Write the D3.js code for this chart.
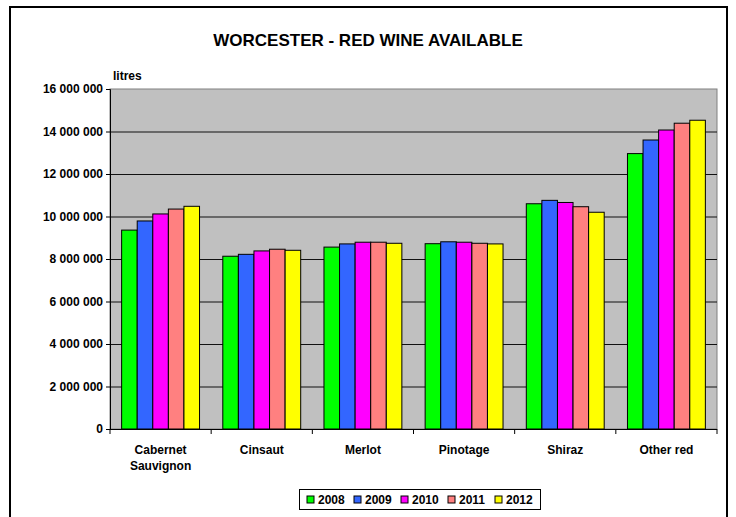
<!DOCTYPE html>
<html>
<head>
<meta charset="utf-8">
<script src="https://cdn.jsdelivr.net/npm/d3@7"></script>
<style>
  body { margin: 0; background: #fff; }
  text { font-family: "Liberation Sans", Arial, sans-serif; font-weight: bold; }
  text.small { font-family: "Liberation Sans Narrow", "Arial Narrow", "Liberation Sans", Arial, sans-serif; font-size: 12px; }
</style>
</head>
<body>
<svg id="chart"></svg>
<script>
const categories = ["Cabernet Sauvignon", "Cinsaut", "Merlot", "Pinotage", "Shiraz", "Other red"];
const years = ["2008", "2009", "2010", "2011", "2012"];
const colors = ["#00ff00", "#3366ff", "#ff00ff", "#ff8080", "#ffff00"];

// litres, one array per year, in category order
const v2008 = [9360000, 8130000, 8560000, 8720000, 10600000, 12960000];
const v2009 = [9790000, 8220000, 8710000, 8810000, 10760000, 13600000];
const v2010 = [10120000, 8380000, 8790000, 8790000, 10660000, 14070000];
const v2011 = [10350000, 8460000, 8790000, 8740000, 10460000, 14390000];
const v2012 = [10480000, 8410000, 8740000, 8710000, 10200000, 14530000];
const series = [v2008, v2009, v2010, v2011, v2012];

const yTicks = [0, 2000000, 4000000, 6000000, 8000000, 10000000, 12000000, 14000000, 16000000];

const W = 736, H = 517;
const plot = {left: 110, right: 717, top: 89, bottom: 429};

const svg = d3.select("#chart").attr("width", W).attr("height", H);

// outer frame (bottom edge runs off the picture)
svg.append("rect")
  .attr("x", 10).attr("y", 7)
  .attr("width", 717).attr("height", 530)
  .attr("fill", "#fff").attr("stroke", "#000").attr("stroke-width", 2);

svg.append("text")
  .attr("x", 368).attr("y", 46)
  .attr("text-anchor", "middle")
  .style("font-size", "17px")
  .text("WORCESTER - RED WINE AVAILABLE");

const x0 = d3.scaleBand()
  .domain(categories)
  .range([plot.left, plot.right])
  .paddingInner(0.23)
  .paddingOuter(0.115);

const x1 = d3.scaleBand()
  .domain(years)
  .range([0, x0.bandwidth()]);

const y = d3.scaleLinear()
  .domain([0, 16000000])
  .range([plot.bottom, plot.top]);

// plot background
svg.append("rect")
  .attr("x", plot.left).attr("y", plot.top)
  .attr("width", plot.right - plot.left)
  .attr("height", plot.bottom - plot.top)
  .attr("fill", "#c0c0c0")
  .attr("stroke", "#808080");

// gridlines
svg.append("g")
  .selectAll("line")
  .data(yTicks.filter(d => d > 0 && d < 16000000))
  .join("line")
  .attr("x1", plot.left).attr("x2", plot.right)
  .attr("y1", d => y(d) + 0.5).attr("y2", d => y(d) + 0.5)
  .attr("stroke", "#111");

// bars
const rows = categories.map((c, i) => ({cat: c, vals: years.map((yr, j) => ({year: yr, value: series[j][i], color: colors[j]}))}));

svg.append("g")
  .selectAll("g")
  .data(rows)
  .join("g")
  .attr("transform", d => `translate(${x0(d.cat)},0)`)
  .selectAll("rect")
  .data(d => d.vals)
  .join("rect")
  .attr("x", d => x1(d.year))
  .attr("y", d => y(d.value))
  .attr("width", x1.bandwidth())
  .attr("height", d => y(0) - y(d.value))
  .attr("fill", d => d.color)
  .attr("stroke", "#000")
  .attr("stroke-width", 1);

// y axis
const yAxis = d3.axisLeft(y)
  .tickValues(yTicks)
  .tickSize(4)
  .tickPadding(3)
  .tickFormat(d => d3.format(",")(d).replace(/,/g, " "));

const gy = svg.append("g")
  .attr("transform", `translate(${plot.left},0)`)
  .call(yAxis);
gy.select(".domain").attr("stroke", "#000");
gy.selectAll("text").attr("class", "small").style("font-size", null).attr("fill", "#000");

// x axis: ticks at category boundaries
const gx = svg.append("g");
gx.append("line")
  .attr("x1", plot.left).attr("x2", plot.right)
  .attr("y1", plot.bottom + 0.5).attr("y2", plot.bottom + 0.5)
  .attr("stroke", "#000");
const step = x0.step();
gx.selectAll("line.tick")
  .data(d3.range(categories.length + 1))
  .join("line")
  .attr("class", "tick")
  .attr("x1", i => x0(categories[0]) - x0.paddingOuter() * step + i * step)
  .attr("x2", i => x0(categories[0]) - x0.paddingOuter() * step + i * step)
  .attr("y1", plot.bottom).attr("y2", plot.bottom + 5)
  .attr("stroke", "#000");

gx.selectAll("text")
  .data(categories)
  .join("text")
  .attr("class", "small")
  .attr("text-anchor", "middle")
  .attr("x", d => x0(d) + x0.bandwidth() / 2)
  .attr("y", 454)
  .each(function(d) {
    const words = d === "Cabernet Sauvignon" ? ["Cabernet", "Sauvignon"] : [d];
    d3.select(this).selectAll("tspan")
      .data(words)
      .join("tspan")
      .attr("x", x0(d) + x0.bandwidth() / 2)
      .attr("dy", (w, i) => i === 0 ? 0 : 16)
      .text(w => w);
  });

svg.append("text")
  .attr("class", "small")
  .attr("x", 113).attr("y", 80)
  .text("litres");

// legend
const legend = svg.append("g").attr("transform", "translate(299.5,489.5)");
legend.append("rect")
  .attr("width", 241).attr("height", 20)
  .attr("fill", "#fff").attr("stroke", "#000");
const item = legend.selectAll("g")
  .data(years)
  .join("g")
  .attr("transform", (d, i) => `translate(${7.5 + i * 47},6.5)`);
item.append("rect")
  .attr("width", 7).attr("height", 7)
  .attr("fill", (d, i) => colors[i])
  .attr("stroke", "#000");
item.append("text")
  .attr("class", "small")
  .attr("x", 11).attr("y", 8)
  .text(d => d);
</script>
</body>
</html>
